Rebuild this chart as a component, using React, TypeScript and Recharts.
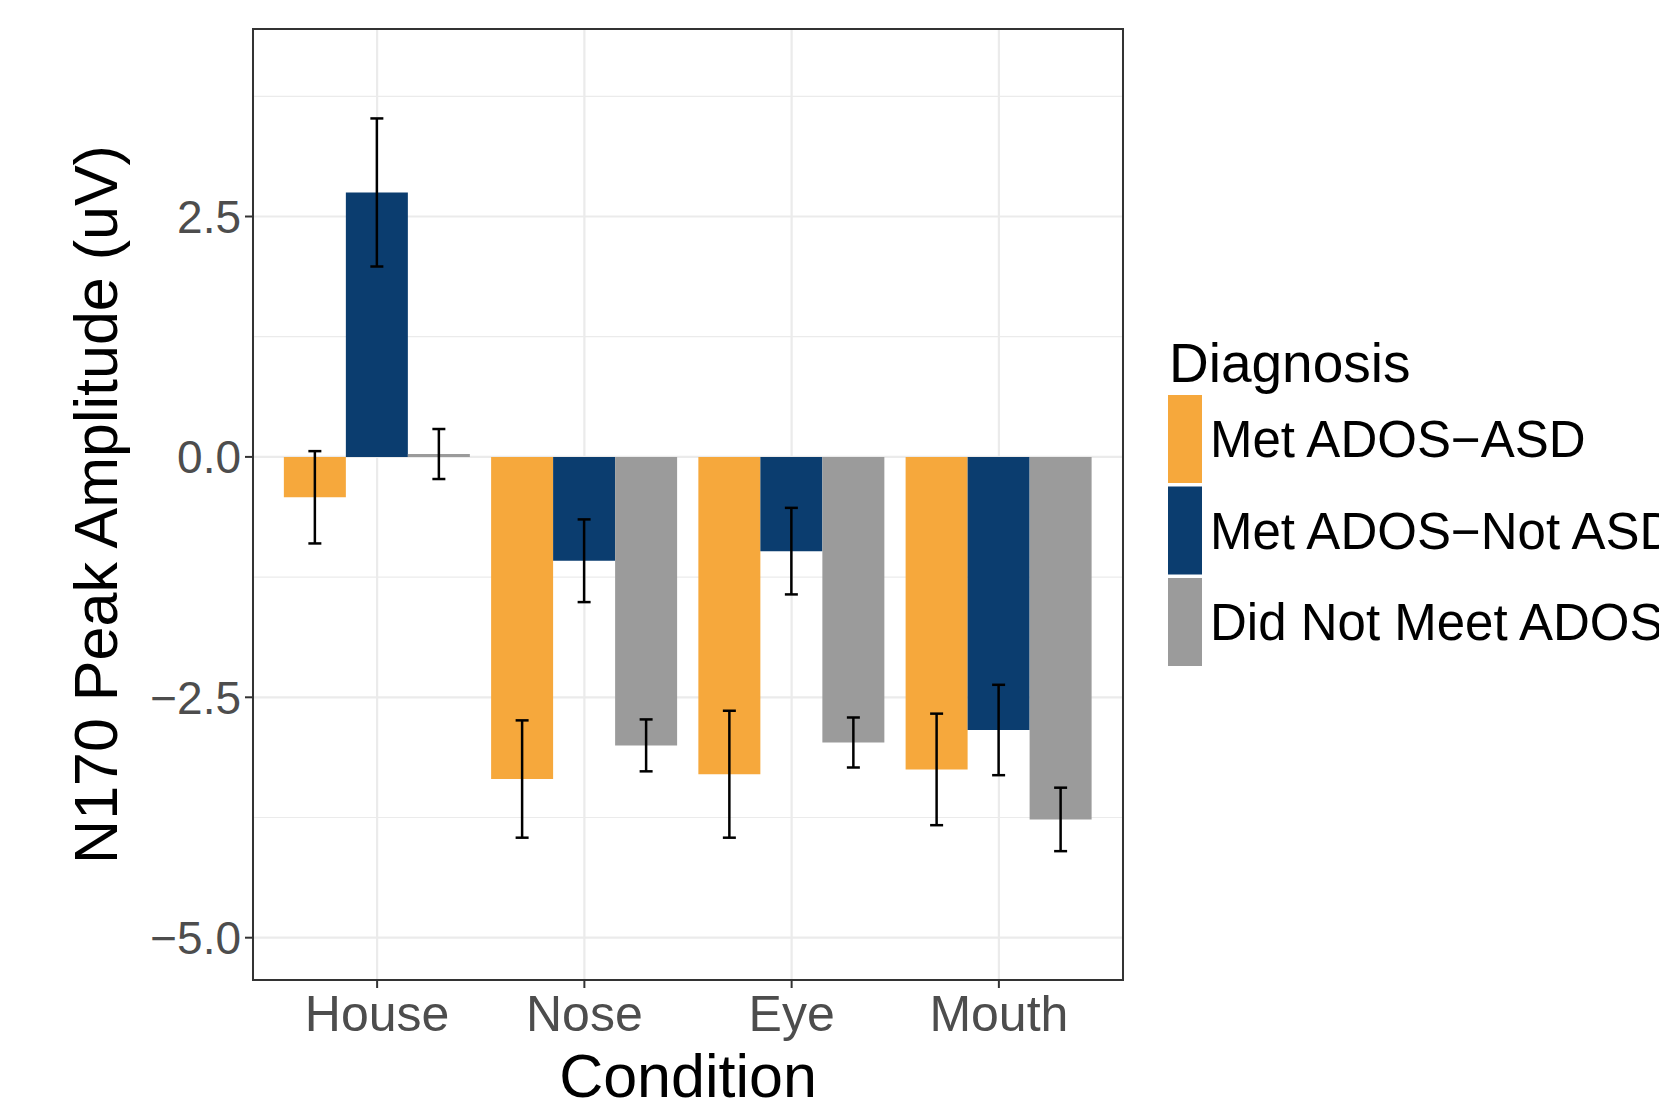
import React from "react";
import * as R from "recharts";
import { ComposedChart, Bar, ErrorBar, XAxis, YAxis, CartesianGrid } from "recharts";

const categories = ["House", "Nose", "Eye", "Mouth"];
const metAsd = [-0.42, -3.35, -3.3, -3.25];
const metAsdSe = [0.48, 0.61, 0.66, 0.58];
const metNotAsd = [2.75, -1.08, -0.98, -2.84];
const metNotAsdSe = [0.77, 0.43, 0.45, 0.47];
const didNotMeet = [0.03, -3.0, -2.97, -3.77];
const didNotMeetSe = [0.26, 0.27, 0.26, 0.33];

const majorTicks = [-5, -2.5, 0, 2.5];
const minorTicks = [-3.75, -1.25, 1.25, 3.75];
const yDomain = [-5.44, 4.45];

const seriesNames = ["Met ADOS\u2212ASD", "Met ADOS\u2212Not ASD", "Did Not Meet ADOS"];
const seriesColors = ["#F6A83C", "#0B3D6F", "#9B9B9B"];

const data = categories.map((c, i) => ({
  cond: c,
  a: metAsd[i],
  aSe: metAsdSe[i],
  b: metNotAsd[i],
  bSe: metNotAsdSe[i],
  c: didNotMeet[i],
  cSe: didNotMeetSe[i],
}));

const FONT = "'Liberation Sans', Arial, Helvetica, sans-serif";

const fmt = (v: number) => v.toFixed(1).replace("-", "\u2212");

const minorGen = (p: any) => {
  const sc = p && p.yAxis && p.yAxis.scale;
  if (typeof sc === "function") return minorTicks.map((v) => sc(v));
  if (sc && typeof sc.map === "function") {
    try {
      return minorTicks.map((v) => sc.map(v));
    } catch (e) {}
  }
  const off = (p && p.offset) || {};
  const top = off.top ?? 29;
  const h = off.height ?? 951;
  return minorTicks.map((v) => top + ((yDomain[1] - v) / (yDomain[1] - yDomain[0])) * h);
};

const usePlot: any = (R as any).usePlotArea || (R as any).useOffset || (() => null);

const PanelBorder = () => {
  const area = usePlot();
  if (!area || area.width == null) return null;
  const x = area.x ?? area.left;
  const y = area.y ?? area.top;
  return <rect x={x} y={y} width={area.width} height={area.height} fill="none" stroke="#333333" strokeWidth={2} />;
};

const YLabel = (props: any) => {
  const vb = props.viewBox || {};
  const cy = vb.y + vb.height / 2;
  const x = 117;
  return (
    <text x={x} y={cy} transform={`rotate(-90, ${x}, ${cy})`} textAnchor="middle" fontSize={61} fontFamily={FONT} fill="#000">
      N170 Peak Amplitude (uV)
    </text>
  );
};

const XLabel = (props: any) => {
  const vb = props.viewBox || {};
  return (
    <text x={vb.x + vb.width / 2} y={vb.y + 117} textAnchor="middle" fontSize={61} fontFamily={FONT} fill="#000">
      Condition
    </text>
  );
};

export default function App() {
  return (
    <div style={{ position: "absolute", left: 0, top: 0, width: 1659, height: 1100, background: "#fff", fontFamily: FONT }}>
      <ComposedChart
        width={1659}
        height={1100}
        data={data}
        margin={{ top: 29, right: 536, bottom: 0, left: 0 }}
        barCategoryGap="5%"
        barGap={0}
      >
        <CartesianGrid
          vertical={false}
          stroke="#EBEBEB"
          strokeWidth={1.2}
          horizontalCoordinatesGenerator={minorGen}
        />
        <CartesianGrid stroke="#EBEBEB" strokeWidth={2.2} />
        <XAxis
          dataKey="cond"
          type="category"
          height={120}
          padding={{ left: 20.5, right: 20.5 }}
          tick={{ fontSize: 50, fill: "#4D4D4D", fontFamily: FONT }}
          tickSize={8}
          tickMargin={7}
          tickLine={{ stroke: "#333333", strokeWidth: 2 }}
          axisLine={{ stroke: "#333333", strokeWidth: 2 }}
          label={<XLabel />}
        />
        <XAxis
          xAxisId="top"
          orientation="top"
          dataKey="cond"
          height={0}
          tick={false}
          tickLine={false}
          axisLine={{ stroke: "#333333", strokeWidth: 2 }}
        />
        <YAxis
          type="number"
          domain={yDomain}
          ticks={majorTicks}
          allowDataOverflow
          width={253}
          tickFormatter={fmt}
          tick={{ fontSize: 46, fill: "#4D4D4D", fontFamily: FONT }}
          tickSize={8}
          tickMargin={4}
          tickLine={{ stroke: "#333333", strokeWidth: 2 }}
          axisLine={{ stroke: "#333333", strokeWidth: 2 }}
          label={<YLabel />}
        />
        <YAxis
          yAxisId="right"
          orientation="right"
          width={0}
          tick={false}
          tickLine={false}
          axisLine={{ stroke: "#333333", strokeWidth: 2 }}
        />
        <Bar dataKey="a" fill={seriesColors[0]} isAnimationActive={false}>
          <ErrorBar dataKey="aSe" width={6.5} stroke="#000" strokeWidth={2.5} isAnimationActive={false} />
        </Bar>
        <Bar dataKey="b" fill={seriesColors[1]} isAnimationActive={false}>
          <ErrorBar dataKey="bSe" width={6.5} stroke="#000" strokeWidth={2.5} isAnimationActive={false} />
        </Bar>
        <Bar dataKey="c" fill={seriesColors[2]} isAnimationActive={false}>
          <ErrorBar dataKey="cSe" width={6.5} stroke="#000" strokeWidth={2.5} isAnimationActive={false} />
        </Bar>
        <PanelBorder />
      </ComposedChart>
      <svg width={1659 - 1160} height={400} style={{ position: "absolute", left: 1160, top: 300 }}>
        <text x={9} y={82} fontSize={55} fontFamily={FONT} fill="#000">
          Diagnosis
        </text>
        {seriesNames.map((n, i) => (
          <g key={n}>
            <rect x={8} y={95 + i * 91.5} width={34} height={88} fill={seriesColors[i]} />
            <text x={50} y={95 + i * 91.5 + 62} fontSize={51} fontFamily={FONT} fill="#000">
              {n}
            </text>
          </g>
        ))}
      </svg>
    </div>
  );
}
